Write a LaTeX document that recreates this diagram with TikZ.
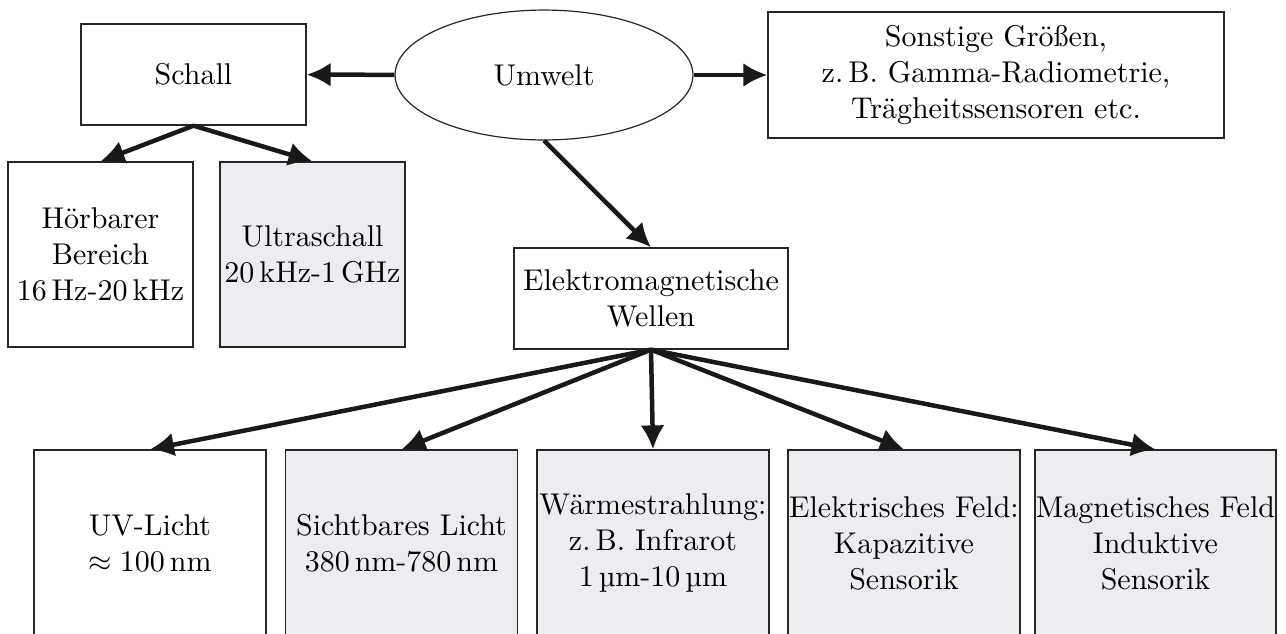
\documentclass[tikz,border=0pt]{standalone}
\usetikzlibrary{shapes.geometric,arrows.meta}
\definecolor{boxgray}{RGB}{236,237,240}
\tikzstyle{box}=[draw=black!85, line width=0.4pt, align=center, inner sep=0pt]
\tikzstyle{graybox}=[box, fill=boxgray]
\tikzstyle{env}=[draw=black!85, line width=0.4pt, ellipse, inner sep=0pt, minimum width=99.3pt, minimum height=43.3pt]
\tikzstyle{arrow}=[draw=black!90, line width=1.5pt, -{Latex[length=8pt,width=8pt]}]

\begin{document}
\begin{tikzpicture}[x=0.33333pt, y=-0.33333pt]
    \useasboundingbox (0,0) rectangle (1286,633);

    \node[env] (umwelt) at (544,75) {Umwelt};
    \node[box, minimum width=75pt, minimum height=33.7pt] (schall) at (193.5,74.5) {Schall};
    \node[box, minimum width=152pt, minimum height=42pt] (sonst) at (996,75)
        {Sonstige Größen,\\z.\,B. Gamma-Radiometrie,\\Trägheitssensoren etc.};
    \node[box, minimum width=61.7pt, minimum height=61.7pt] (hoer) at (100.5,254.5)
        {Hörbarer\\Bereich\\16\,Hz-20\,kHz};
    \node[graybox, minimum width=61.7pt, minimum height=61.7pt] (ultra) at (312.5,254.5)
        {Ultraschall\\20\,kHz-1\,GHz};
    \node[box, minimum width=91.3pt, minimum height=33.7pt] (em) at (651,298.5)
        {Elektromagnetische\\Wellen};

    % Spektrum der elektromagnetischen Wellen
    \foreach \pos/\name/\kind/\boxw/\txt in {
                            {(150,543)/uv/box/77.3pt/{UV-Licht\\$\approx 100$\,nm}},
                            {(401.5,543)/licht/graybox/77.3pt/{Sichtbares Licht\\380\,nm-780\,nm}},
                            {(653,543)/waerme/graybox/77.3pt/{Wärmestrahlung:\\z.\,B. Infrarot\\1\,µm-10\,µm}},
                            {(904,543)/efeld/graybox/77.3pt/{Elektrisches Feld:\\Kapazitive\\Sensorik}},
                            {(1155.5,543)/mfeld/graybox/80.3pt/{Magnetisches Feld\\Induktive\\Sensorik}}}
        \node[\kind, minimum width=\boxw, minimum height=62pt] (\name) at \pos {\txt};

    % Pfeile
    \draw[arrow] (umwelt) -- (schall);
    \draw[arrow] (umwelt) -- (sonst);
    \draw[arrow] (umwelt.south) -- (em.north);
    \draw[arrow] (schall.south) -- (hoer.north);
    \draw[arrow] (schall.south) -- (ultra.north);
    \foreach \name in {uv, licht, waerme, efeld, mfeld}
        \draw[arrow] (em.south) -- (\name.north);

\end{tikzpicture}
\end{document}
